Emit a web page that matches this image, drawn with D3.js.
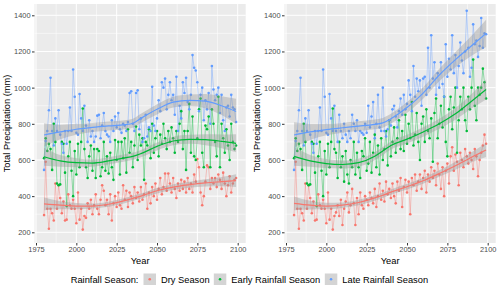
<!DOCTYPE html>
<html>
<head>
<meta charset="utf-8">
<script src="https://cdn.jsdelivr.net/npm/d3@7"></script>
<style>
  body { margin: 0; background: #fff; }
  svg { display: block; font-family: "Liberation Sans", Arial, sans-serif; }
</style>
</head>
<body>
<svg id="chart" width="500" height="289"></svg>
<script>
const SEASONS = ["Dry Season", "Early Rainfall Season", "Late Rainfall Season"];
const COLORS = ["#F8766D", "#00BA38", "#619CFF"];
const YEARS = d3.range(1980, 2100);

const X_TICKS = [1975, 2000, 2025, 2050, 2075, 2100];
const X_MINOR = [1987.5, 2012.5, 2037.5, 2062.5, 2087.5];
const Y_TICKS = [200, 400, 600, 800, 1000, 1200, 1400];
const Y_MINOR = [300, 500, 700, 900, 1100, 1300];

// 1980-2005, shared by both panels
const HIST_DRY = [295, 590, 330, 220, 330, 305, 265, 470, 330, 460, 390, 305, 370, 265, 270, 410, 350, 330, 380, 330, 250, 420, 270, 330, 215, 290];
const HIST_EARLY = [610, 720, 650, 690, 660, 545, 800, 700, 470, 460, 465, 700, 690, 530, 345, 620, 700, 540, 400, 650, 520, 690, 560, 700, 885, 660];
const HIST_LATE = [545, 705, 760, 875, 1055, 760, 680, 830, 760, 875, 740, 690, 640, 760, 690, 760, 890, 760, 1100, 950, 750, 740, 965, 830, 760, 900];

// 2006-2099, left panel
const LEFT_DRY = [
  280, 360, 330, 380, 300, 350, 410, 330, 300, 380,
  460, 430, 350, 380, 300, 410, 265, 360, 400, 340,
  420, 350, 330, 460, 380, 430, 340, 420, 400, 360,
  450, 390, 420, 370, 450, 380, 410, 470, 330, 420,
  360, 450, 400, 470, 380, 440, 500, 410, 450, 525,
  430, 525, 470, 420, 500, 440, 390, 470, 430, 490,
  440, 480, 420, 500, 440, 470, 420, 520, 480, 605,
  560, 420, 350, 400, 480, 570, 560, 440, 500, 470,
  500, 450, 520, 490, 440, 530, 470, 400, 460, 510,
  420, 470, 490, 500];
const LEFT_EARLY = [
  560, 500, 620, 680, 540, 660, 500, 660, 650, 510,
  560, 700, 540, 620, 525, 640, 560, 490, 710, 600,
  700, 520, 700, 610, 720, 530, 770, 640, 700, 560,
  680, 785, 600, 740, 680, 720, 490, 700, 680, 770,
  610, 800, 640, 720, 760, 620, 740, 690, 800, 720,
  660, 760, 700, 780, 720, 640, 760, 700, 800, 870,
  660, 760, 545, 760, 910, 640, 840, 620, 600, 720,
  880, 940, 640, 560, 790, 770, 840, 560, 880, 800,
  700, 620, 950, 560, 800, 720, 640, 770, 680, 600,
  800, 700, 660, 680];
const LEFT_LATE = [
  790, 700, 820, 730, 760, 700, 730, 845, 850, 720,
  790, 860, 760, 740, 730, 700, 820, 760, 840, 780,
  860, 770, 750, 800, 790, 760, 810, 970, 980, 800,
  760, 970, 985, 770, 830, 700, 720, 850, 730, 780,
  760, 1005, 790, 760, 830, 930, 870, 1030, 1000, 1050,
  880, 960, 1030, 930, 960, 850, 1060, 760, 900, 830,
  1030, 970, 1055, 920, 880, 960, 1180, 1110, 1095, 1030,
  870, 960, 1000, 820, 930, 880, 970, 800, 1120, 990,
  930, 960, 1000, 860, 960, 820, 760, 890, 900, 840,
  960, 890, 880, 810];

// 2006-2099, right panel
const RIGHT_DRY = [
  310, 350, 290, 380, 240, 330, 370, 420, 310, 350,
  440, 360, 240, 390, 300, 420, 350, 330, 400, 380,
  350, 420, 390, 360, 440, 340, 400, 470, 380, 430,
  370, 480, 410, 440, 390, 470, 400, 360, 480, 430,
  500, 340, 450, 490, 420, 480, 300, 500, 460, 520,
  430, 480, 520, 440, 500, 540, 420, 520, 480, 560,
  500, 540, 460, 580, 520, 440, 560, 400, 540, 580,
  470, 620, 670, 540, 630, 590, 460, 640, 600, 560,
  660, 620, 580, 640, 600, 550, 660, 620, 510, 600,
  640, 680, 740, 690];
const RIGHT_EARLY = [
  640, 500, 700, 560, 620, 480, 650, 520, 470, 600,
  560, 700, 520, 640, 560, 500, 650, 620, 720, 540,
  580, 700, 530, 640, 740, 560, 680, 520, 720, 600,
  660, 760, 570, 820, 620, 700, 780, 640, 720, 820,
  660, 760, 650, 850, 690, 800, 720, 920, 680, 740,
  860, 700, 600, 800, 840, 700, 880, 760, 720, 830,
  590, 860, 940, 720, 800, 900, 780, 950, 700, 620,
  880, 950, 770, 890, 1000, 640, 820, 950, 880, 1000,
  820, 760, 950, 880, 1000, 1155, 900, 820, 1000, 960,
  1000, 1105, 1030, 940];
const RIGHT_LATE = [
  760, 700, 850, 760, 720, 800, 740, 700, 760, 720,
  850, 800, 760, 820, 700, 760, 750, 740, 800, 750,
  900, 780, 840, 920, 720, 800, 960, 780, 760, 1000,
  760, 730, 770, 820, 790, 880, 900, 840, 780, 870,
  940, 850, 960, 880, 910, 1040, 960, 870, 1120, 950,
  1050, 980, 1040, 900, 1050, 1060, 960, 1220, 1000, 1290,
  1050, 1140, 960, 1080, 1000, 1140, 1020, 950, 1240, 1060,
  1160, 1100, 1290, 1080, 1180, 1000, 1120, 1250, 1150, 1080,
  1200, 1425, 1220, 1060, 1110, 1350, 1240, 1260, 1170, 1230,
  1385, 1220, 1300, 1295];

// smoothed trend (loess) and its confidence half-width
const FIT_YEARS = [1980, 1990, 2000, 2010, 2020, 2030, 2035, 2040, 2050, 2060, 2070, 2080, 2090, 2099];
const LEFT_FIT_DRY = [357, 350, 345, 345, 355, 375, 388, 400, 430, 450, 463, 473, 480, 486];
const LEFT_FIT_EARLY = [618, 595, 585, 583, 595, 612, 620, 635, 675, 705, 714, 712, 703, 692];
const LEFT_FIT_LATE = [738, 755, 770, 780, 788, 795, 803, 830, 880, 920, 930, 925, 900, 868];
const RIGHT_FIT_DRY = [360, 350, 345, 350, 365, 390, 405, 422, 452, 485, 525, 568, 615, 655];
const RIGHT_FIT_EARLY = [620, 595, 580, 575, 585, 620, 650, 680, 715, 755, 800, 855, 925, 990];
const RIGHT_FIT_LATE = [738, 755, 768, 778, 787, 797, 805, 828, 890, 970, 1070, 1155, 1232, 1300];
const LEFT_CI_DRY = [35, 22, 17, 14, 14, 14, 14, 14, 15, 16, 17, 20, 26, 35];
const LEFT_CI_EARLY = [50, 32, 25, 20, 20, 20, 20, 20, 22, 24, 25, 30, 38, 50];
const LEFT_CI_LATE = [65, 40, 30, 25, 25, 25, 25, 25, 28, 30, 32, 40, 52, 70];
const RIGHT_CI_DRY = [38, 24, 18, 15, 15, 15, 15, 15, 16, 17, 18, 22, 28, 38];
const RIGHT_CI_EARLY = [52, 33, 25, 22, 22, 22, 22, 22, 24, 26, 28, 32, 40, 55];
const RIGHT_CI_LATE = [70, 45, 32, 27, 27, 27, 27, 27, 30, 32, 35, 42, 55, 75];

const svg = d3.select("#chart");

const PANEL = { left: 34.5, right: 245.7, top: 4, bottom: 243 };

function drawPanel(offset, values, fits, cis, id) {
  const x = d3.scaleLinear().domain([1975, 2100]).range([36 + offset, 237.7 + offset]);
  const y = d3.scaleLinear().domain([200, 1400]).range([232.3, 15.3]);

  const g = svg.append("g");

  g.append("clipPath").attr("id", id)
    .append("rect")
    .attr("x", PANEL.left + offset).attr("y", PANEL.top)
    .attr("width", PANEL.right - PANEL.left).attr("height", PANEL.bottom - PANEL.top);

  g.append("rect")
    .attr("x", PANEL.left + offset).attr("y", PANEL.top)
    .attr("width", PANEL.right - PANEL.left).attr("height", PANEL.bottom - PANEL.top)
    .attr("fill", "#EBEBEB");

  // grid
  const grid = g.append("g").attr("stroke", "#fff");
  grid.selectAll(".xm").data(X_MINOR).join("line")
    .attr("x1", x).attr("x2", x).attr("y1", PANEL.top).attr("y2", PANEL.bottom)
    .attr("stroke-width", 0.5);
  grid.selectAll(".ym").data(Y_MINOR).join("line")
    .attr("x1", PANEL.left + offset).attr("x2", PANEL.right + offset)
    .attr("y1", y).attr("y2", y).attr("stroke-width", 0.5);
  grid.selectAll(".xM").data(X_TICKS).join("line")
    .attr("x1", x).attr("x2", x).attr("y1", PANEL.top).attr("y2", PANEL.bottom)
    .attr("stroke-width", 1);
  grid.selectAll(".yM").data(Y_TICKS).join("line")
    .attr("x1", PANEL.left + offset).attr("x2", PANEL.right + offset)
    .attr("y1", y).attr("y2", y).attr("stroke-width", 1);

  const plot = g.append("g").attr("clip-path", `url(#${id})`);

  const line = d3.line().x((d, i) => x(YEARS[i])).y((d) => y(d));

  values.forEach((vals, s) => {
    plot.append("path")
      .attr("d", line(vals))
      .attr("fill", "none")
      .attr("stroke", COLORS[s])
      .attr("stroke-opacity", 0.5)
      .attr("stroke-width", 0.8);
  });

  values.forEach((vals, s) => {
    plot.append("g").selectAll("circle")
      .data(vals)
      .join("circle")
      .attr("cx", (d, i) => x(YEARS[i]))
      .attr("cy", (d) => y(d))
      .attr("r", 1.3)
      .attr("fill", COLORS[s]);
  });

  fits.forEach((fit, s) => {
    const ci = cis[s];
    const area = d3.area()
      .curve(d3.curveMonotoneX)
      .x((d, i) => x(FIT_YEARS[i]))
      .y0((d, i) => y(d - ci[i]))
      .y1((d, i) => y(d + ci[i]));
    plot.append("path")
      .attr("d", area(fit))
      .attr("fill", "#999999")
      .attr("fill-opacity", 0.4);
    const smooth = d3.line()
      .curve(d3.curveMonotoneX)
      .x((d, i) => x(FIT_YEARS[i]))
      .y((d) => y(d));
    plot.append("path")
      .attr("d", smooth(fit))
      .attr("fill", "none")
      .attr("stroke", COLORS[s])
      .attr("stroke-width", 1.2);
  });

  // axes
  const xAxis = d3.axisBottom(x).tickValues(X_TICKS).tickFormat(d3.format("d"))
    .tickSize(2.5).tickPadding(1.5);
  const ax = g.append("g").attr("transform", `translate(0,${PANEL.bottom})`).call(xAxis);
  ax.select(".domain").remove();
  ax.selectAll("line").attr("stroke", "#333");
  ax.selectAll("text").attr("fill", "#4D4D4D").attr("font-size", 7.4)
    .attr("font-family", "Liberation Sans, Arial, sans-serif");

  const yAxis = d3.axisLeft(y).tickValues(Y_TICKS).tickFormat(d3.format("d"))
    .tickSize(2.5).tickPadding(1.5);
  const ay = g.append("g").attr("transform", `translate(${PANEL.left + offset},0)`).call(yAxis);
  ay.select(".domain").remove();
  ay.selectAll("line").attr("stroke", "#333");
  ay.selectAll("text").attr("fill", "#4D4D4D").attr("font-size", 7.4)
    .attr("font-family", "Liberation Sans, Arial, sans-serif");

  g.append("text")
    .attr("x", (PANEL.left + PANEL.right) / 2 + offset)
    .attr("y", 263.5)
    .attr("text-anchor", "middle")
    .attr("font-size", 9.3)
    .attr("fill", "#000")
    .text("Year");

  g.append("text")
    .attr("transform", `translate(${10.3 + offset},${(PANEL.top + PANEL.bottom) / 2}) rotate(-90)`)
    .attr("text-anchor", "middle")
    .attr("font-size", 9.3)
    .attr("fill", "#000")
    .text("Total Precipitation (mm)");
}

drawPanel(0,
  [HIST_DRY.concat(LEFT_DRY), HIST_EARLY.concat(LEFT_EARLY), HIST_LATE.concat(LEFT_LATE)],
  [LEFT_FIT_DRY, LEFT_FIT_EARLY, LEFT_FIT_LATE],
  [LEFT_CI_DRY, LEFT_CI_EARLY, LEFT_CI_LATE], "clip-left");

drawPanel(250,
  [HIST_DRY.concat(RIGHT_DRY), HIST_EARLY.concat(RIGHT_EARLY), HIST_LATE.concat(RIGHT_LATE)],
  [RIGHT_FIT_DRY, RIGHT_FIT_EARLY, RIGHT_FIT_LATE],
  [RIGHT_CI_DRY, RIGHT_CI_EARLY, RIGHT_CI_LATE], "clip-right");

// legend
const legend = svg.append("g").attr("font-size", 9.3).attr("fill", "#000");
legend.append("text").attr("x", 70.7).attr("y", 282.8).text("Rainfall Season:");
const KEY_X = [143.5, 213.8, 324.8];
SEASONS.forEach((name, i) => {
  legend.append("rect")
    .attr("x", KEY_X[i]).attr("y", 273.5)
    .attr("width", 12.5).attr("height", 11.5)
    .attr("fill", "#D4D4D4");
  legend.append("circle")
    .attr("cx", KEY_X[i] + 6.25).attr("cy", 279.25)
    .attr("r", 1.3)
    .attr("fill", COLORS[i]);
  legend.append("text")
    .attr("x", KEY_X[i] + 17.5).attr("y", 282.8)
    .text(name);
});
</script>
</body>
</html>
